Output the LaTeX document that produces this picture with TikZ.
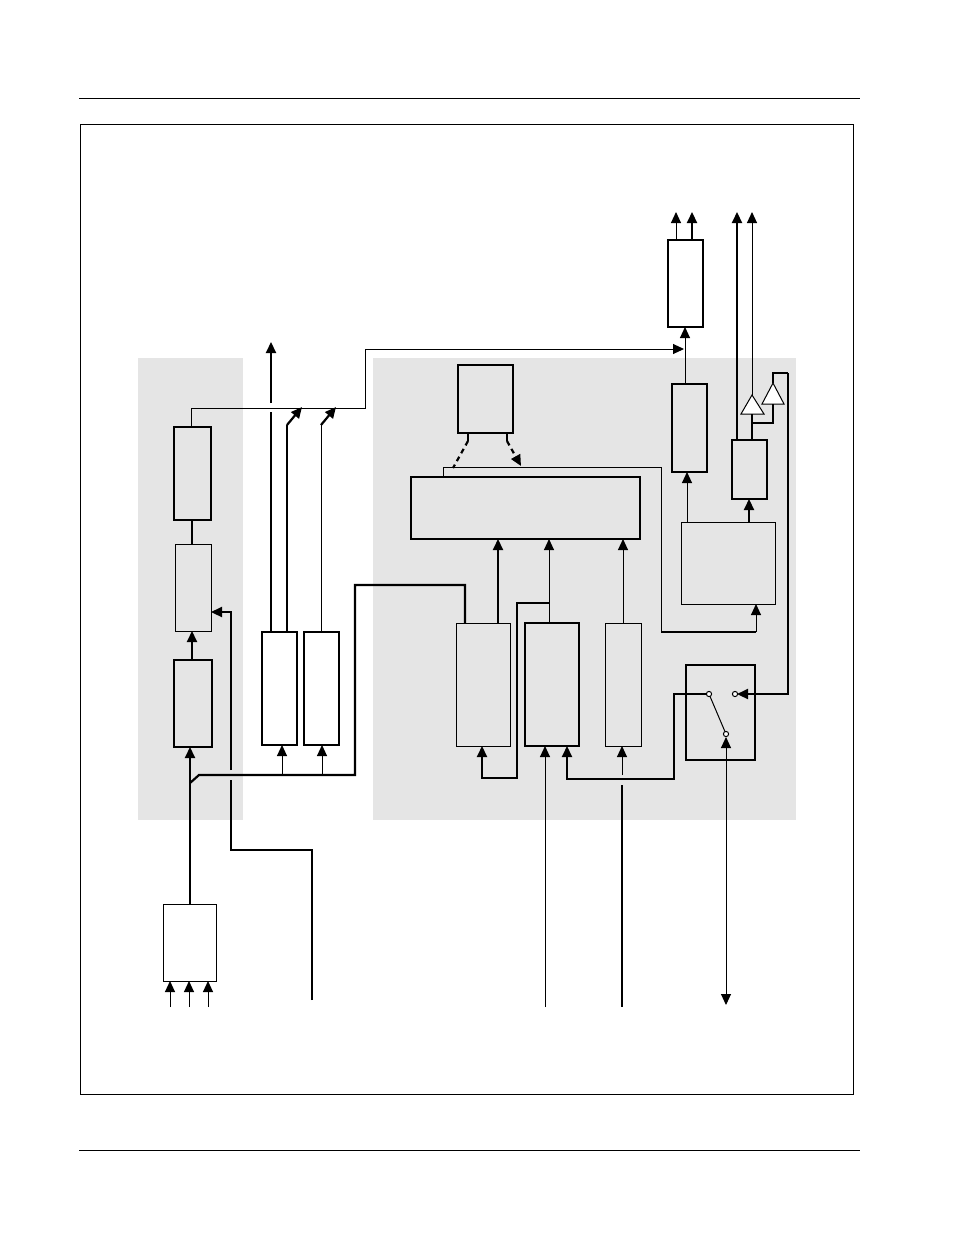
\documentclass[tikz,border=0pt]{standalone}
\usetikzlibrary{arrows.meta}
\begin{document}
\begin{tikzpicture}[x=1pt,y=-1pt,
  thk/.style={line width=2.2pt},
  thn/.style={line width=1pt},
  arr/.style={-{Triangle[length=11pt,width=10pt]}},
  boxthk/.style={draw,line width=2.2pt,inner sep=0pt},
  boxthn/.style={draw,line width=1pt,inner sep=0pt},
  panel/.style={fill=black!10,draw=none}]
\useasboundingbox (0,0) rectangle (954,1235);
\newcommand\mybox[6]{\node[#6,minimum width={(#4-#2)*1pt},minimum height={(#5-#3)*1pt}] (#1) at ({(#2+#4)/2},{(#3+#5)/2}) {};}
% rules and frame
\draw[thn] (79,98) -- (860,98);
\draw[thn] (79,1150) -- (860,1150);
\draw[thn] (80,124) rectangle (853,1094);
\fill[panel] (138,358) rectangle (243,820);
\fill[panel] (373,358) rectangle (796,820);
% left column
\mybox{A1}{174}{427}{211}{520}{boxthk}
\mybox{A2}{175}{544}{211}{631}{boxthn}
\mybox{A3}{174}{660}{212}{747}{boxthk}
\mybox{S}{163}{904}{216}{981}{boxthn}
\mybox{C1}{262}{632}{297}{745}{boxthk}
\mybox{C2}{304}{632}{339}{745}{boxthk}
% right panel
\mybox{D}{458}{365}{513}{433}{boxthk}
\mybox{E}{411}{477}{640}{539}{boxthk}
\mybox{F}{681}{522}{775}{604}{boxthn}
\mybox{B1}{456}{623}{510}{746}{boxthn}
\mybox{B2}{525}{623}{579}{746}{boxthk}
\mybox{B3}{605}{623}{641}{746}{boxthn}
\mybox{G}{686}{665}{755}{760}{boxthk}
\mybox{H}{672}{384}{707}{472}{boxthk}
\mybox{I}{668}{240}{703}{327}{boxthk}
\mybox{J}{732}{440}{767}{499}{boxthk}
% triangles
\draw[thn,fill=white] (741,414) -- (764,414) -- (752,395) -- cycle;
\draw[thn,fill=white] (762,404) -- (784,404) -- (773,383) -- cycle;
% left column connectors
\draw[thn] (191,427) -- (191,408) -- (365,408) -- (365,349);
\draw[thn,arr] (365,349) -- (684,349);
\draw[thk] (192,520) -- (192,544);
\draw[thk,arr] (192,660) -- (192,631);
\draw[thk,arr] (190,904) -- (190,747);
\foreach \x in {170,189,208}{\draw[thn,arr] (\x,1007) -- (\x,981);}
\draw[thk] (190,783) -- (199,775) -- (355,775) -- (355,585) -- (465,585) -- (465,623);
\draw[thn,arr] (282,775) -- (282,745);
\draw[thn,arr] (322,775) -- (322,745);
\draw[thk] (271,632) -- (271,412);
\draw[thk,arr] (271,403) -- (271,342);
\draw[thk] (287,632) -- (287,425);
\draw[thk,arr] (287,425) -- (302,407);
\draw[thn] (321,632) -- (321,425);
\draw[thk,arr] (321,425) -- (336,407);
\draw[thk] (312,1000) -- (312,850) -- (231,850) -- (231,780);
\draw[thk,arr] (231,770) -- (231,612) -- (211,612);
% right panel connectors
\draw[thk] (468,433) -- (468,441);
\draw[thk,dash pattern=on 5pt off 4pt] (468,441) -- (453,468);
\draw[thk] (507,433) -- (507,441);
\draw[thk,dash pattern=on 5pt off 4pt,arr] (507,441) -- (521,466);
\draw[thn] (443,477) -- (443,467) -- (661,467) -- (661,632);
\draw[thk] (661,632) -- (756,632);
\draw[thn,arr] (756,632) -- (756,604);
\draw[thk,arr] (498,623) -- (498,539);
\draw[thn,arr] (549,623) -- (549,539);
\draw[thn,arr] (623,623) -- (623,539);
\draw[thk,arr] (549,603) -- (517,603) -- (517,778) -- (482,778) -- (482,746);
\draw[thn,arr] (545,1007) -- (545,746);
\draw[thk,arr] (709,694) -- (674,694) -- (674,779) -- (567,779) -- (567,746);
\draw[thn,arr] (622,775) -- (622,746);
\draw[thk] (622,785) -- (622,1007);
% switch
\draw[thn] (709,694) -- (726,734);
\draw[thk,arr] (788,373) -- (788,694) -- (737,694);
\draw[thk] (788,373) -- (773,373) -- (773,383);
\foreach \p in {(709,694),(735,694),(726,734)}{\draw[thn,fill=white] \p circle (2.6);}
\draw[thn,{Triangle[length=11pt,width=10pt]}-{Triangle[length=11pt,width=10pt]}] (726,737) -- (726,1005);
% top right
\draw[thn,arr] (687,522) -- (687,472);
\draw[thn,arr] (685,384) -- (685,327);
\draw[thn,arr] (676,240) -- (676,212);
\draw[thk,arr] (692,240) -- (692,212);
\draw[thk,arr] (749,522) -- (749,499);
\draw[thk,arr] (737,440) -- (737,212);
\draw[thn,arr] (752,395) -- (752,212);
\draw[thk] (752,440) -- (752,414);
\draw[thk] (752,423) -- (773,423) -- (773,404);
\end{tikzpicture}
\end{document}
